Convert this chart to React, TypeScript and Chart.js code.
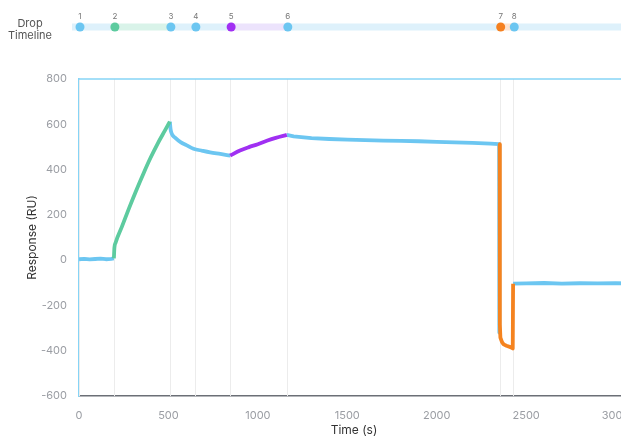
import React, { useEffect, useRef } from "react";
import { Chart, registerables } from "chart.js";

Chart.register(...registerables);

// Drop timeline
const dropLabels = ["1", "2", "3", "4", "5", "6", "7", "8"];
const dropTimes = [0, 195, 508, 648, 845, 1162, 2352, 2428];
const dropColors = ["#6cc6f1", "#5dcb9f", "#6cc6f1", "#6cc6f1", "#a12ff3", "#6cc6f1", "#f5801f", "#6cc6f1"];
const segmentColors = ["#def1fb", "#d9f3e9", "#def1fb", "#def1fb", "#ece3fc", "#def1fb", "#fde3d0", "#def1fb"];

// Sensorgram phases (time s, response RU)
const baselineTime = [0, 30, 60, 90, 120, 150, 180, 195];
const baselineResp = [4, 6, 3, 5, 7, 4, 6, 8];

const assocTime = [195, 198, 205, 240, 280, 320, 360, 400, 440, 480, 508];
const assocResp = [8, 55, 78, 148, 230, 308, 382, 452, 515, 572, 612];

const dissocTime = [508, 512, 520, 537, 570, 600, 640, 690, 733, 790, 845];
const dissocResp = [612, 578, 556, 541, 520, 508, 492, 483, 476, 469, 462];

const secondTime = [845, 900, 950, 1000, 1050, 1100, 1162];
const secondResp = [462, 484, 499, 512, 527, 540, 553];

const washTime = [1162, 1200, 1300, 1400, 1500, 1600, 1700, 1800, 1900, 2000, 2100, 2200, 2300, 2349, 2350];
const washResp = [553, 547, 539, 535, 532, 530, 528, 527, 525, 522, 520, 518, 515, 512, -320];

const regenTime = [2352, 2353, 2356, 2365, 2374, 2390, 2412, 2425, 2427];
const regenResp = [512, -285, -342, -362, -372, -378, -384, -390, -104];

const finalTime = [2427, 2500, 2600, 2700, 2800, 2900, 3000, 3075];
const finalResp = [-104, -103, -101, -104, -102, -103, -102, -103];

const xTickValues = [0, 500, 1000, 1500, 2000, 2500, 3000];
const xMax = 3075;
const yTicks = { min: -600, max: 800, step: 200 };

const BLUE = "#6cc6f1";
const GREEN = "#5dcb9f";
const PURPLE = "#a030f2";
const ORANGE = "#f5831f";

const pts = (t: number[], v: number[]) => t.map((x, i) => ({ x, y: v[i] }));

const FONT = "Inter, 'Noto Sans', sans-serif";

const overlayPlugin = {
  id: "overlay",
  beforeDatasetsDraw(chart: any) {
    const { ctx, chartArea, scales } = chart;
    ctx.save();
    ctx.strokeStyle = "#ececec";
    ctx.lineWidth = 1;
    dropTimes.forEach((t) => {
      const x = Math.round(scales.x.getPixelForValue(t)) + 0.5;
      ctx.beginPath();
      ctx.moveTo(x, chartArea.top);
      ctx.lineTo(x, chartArea.bottom);
      ctx.stroke();
    });
    ctx.strokeStyle = "#86d4f6";
    ctx.lineWidth = 1.5;
    ctx.beginPath();
    ctx.moveTo(chartArea.left, chartArea.top);
    ctx.lineTo(chart.width, chartArea.top);
    ctx.stroke();
    ctx.restore();
  },
  afterDraw(chart: any) {
    const { ctx, scales } = chart;
    const xs = scales.x;
    const barY = 19;
    const barH = 7;
    const barStart = 64;
    ctx.save();
    ctx.fillStyle = "#555";
    ctx.font = `11px ${FONT}`;
    ctx.textAlign = "center";
    ctx.textBaseline = "middle";
    ctx.fillText("Drop", 22, 16);
    ctx.fillText("Timeline", 22, 28);
    const px = dropTimes.map((t) => xs.getPixelForValue(t));
    ctx.fillStyle = segmentColors[0];
    ctx.fillRect(barStart, barY - barH / 2, px[0] - barStart, barH);
    for (let i = 0; i < px.length; i++) {
      const end = i + 1 < px.length ? px[i + 1] : chart.width;
      ctx.fillStyle = segmentColors[i];
      ctx.fillRect(px[i], barY - barH / 2, end - px[i], barH);
    }
    px.forEach((x, i) => {
      ctx.beginPath();
      ctx.fillStyle = dropColors[i];
      ctx.arc(x + 1, barY, 4.5, 0, Math.PI * 2);
      ctx.fill();
      ctx.fillStyle = "#777";
      ctx.font = `8px ${FONT}`;
      ctx.fillText(dropLabels[i], x + 1, 9);
    });
    ctx.restore();
  },
};

export default function App() {
  const ref = useRef<HTMLCanvasElement | null>(null);

  useEffect(() => {
    if (!ref.current) return;
    const mk = (label: string, t: number[], v: number[], color: string, order: number, smooth: boolean) => ({
      label,
      data: pts(t, v),
      borderColor: color,
      backgroundColor: color,
      borderWidth: 3.8,
      pointRadius: 0,
      tension: 0,
      cubicInterpolationMode: smooth ? ("monotone" as const) : ("default" as const),
      borderJoinStyle: "round" as const,
      order,
    });
    const chart = new Chart(ref.current, {
      type: "line",
      data: {
        datasets: [
          mk("Baseline", baselineTime, baselineResp, BLUE, 1, false),
          mk("Association", assocTime, assocResp, GREEN, 0, true),
          mk("Dissociation", dissocTime, dissocResp, BLUE, 1, true),
          mk("Second", secondTime, secondResp, PURPLE, 0, true),
          mk("Wash", washTime, washResp, BLUE, 1, false),
          mk("Regeneration", regenTime, regenResp, ORANGE, 0, false),
          mk("Final", finalTime, finalResp, BLUE, 1, false),
        ],
      },
      options: {
        animation: false,
        responsive: false,
        layout: { padding: { top: 71, left: 0, right: 19, bottom: 0 } },
        plugins: { legend: { display: false }, tooltip: { enabled: false } },
        scales: {
          x: {
            type: "linear",
            min: 0,
            max: xMax,
            grid: { display: false, drawTicks: false },
            border: { display: true, color: "#6b6f76", width: 1.5 },
            afterBuildTicks: (s: any) => {
              s.ticks = xTickValues.map((v) => ({ value: v }));
            },
            ticks: {
              color: "#9a9da3",
              font: { family: FONT, size: 11 },
              padding: 13,
              maxRotation: 0,
              autoSkip: false,
              callback: (v: any) => String(v),
            },
            title: {
              display: true,
              text: "Time (s)",
              color: "#333",
              font: { family: FONT, size: 12 },
              padding: { top: 0, bottom: 0 },
            },
            afterFit: (s: any) => {
              s.height = 42;
            },
          },
          y: {
            type: "linear",
            min: yTicks.min,
            max: yTicks.max,
            grid: { display: false, drawTicks: false },
            border: { display: true, color: "#86d4f6", width: 1.5 },
            ticks: {
              stepSize: yTicks.step,
              color: "#9a9da3",
              font: { family: FONT, size: 11 },
              padding: 12,
            },
            title: {
              display: true,
              text: "Response (RU)",
              color: "#333",
              font: { family: FONT, size: 12 },
              padding: { top: 17, bottom: 0 },
            },
            afterFit: (s: any) => {
              s.width = 71;
            },
          },
        },
      },
      plugins: [overlayPlugin],
    });
    return () => chart.destroy();
  }, []);

  return (
    <div style={{ position: "fixed", left: 0, top: 0, width: 621, height: 437, overflow: "hidden" }}>
      <canvas
        ref={ref}
        width={640}
        height={430}
        style={{ position: "absolute", left: 8, top: 8, width: 640, height: 430, display: "block" }}
      />
    </div>
  );
}
